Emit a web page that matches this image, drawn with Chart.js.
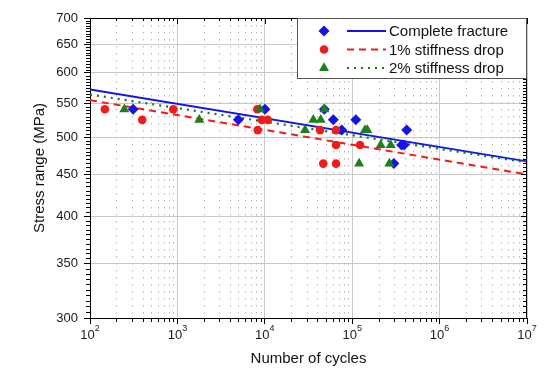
<!DOCTYPE html>
<html>
<head>
<meta charset="utf-8">
<script src="https://cdn.jsdelivr.net/npm/chart.js@4.4.1/dist/chart.umd.min.js"></script>
<style>
    html, body { margin: 0; padding: 0; background: #fff; }
</style>
</head>
<body>
<canvas id="sn-chart" width="550" height="380"></canvas>
<script>
const FONT = "'Liberation Sans', Arial, sans-serif";

// axis ticks
const xTicks = [1e2, 1e3, 1e4, 1e5, 1e6, 1e7];
const yTicks = [300, 350, 400, 450, 500, 550, 600, 650, 700];

// test results (cycles, stress range)
const completeCycles = [312, 4980, 10040, 48000, 60800, 75900, 110000, 300000, 368000, 392000, 420000];
const completeStress = [541, 525, 541, 541, 525, 510, 525, 464, 489, 489, 510];

const drop1Cycles = [148, 396, 897, 8200, 8300, 9230, 10800, 42900, 46700, 65300, 65300, 65300, 123000];
const drop1Stress = [541, 525, 541, 541, 510, 525, 525, 510, 464, 510, 489, 464, 489];

const drop2Cycles = [247, 1780, 8810, 28900, 35900, 43600, 48000, 120000, 140000, 149000, 212000, 266000, 276000];
const drop2Stress = [541, 525, 541, 510, 525, 525, 541, 464, 510, 510, 489, 464, 489];

// fitted S-N curves, end points at 10^2 and 10^7
const fitCycles = [1e2, 1e7];
const completeFit = [572, 467];
const drop1Fit = [555, 450];
const drop2Fit = [564, 465.5];

const legendLabels = ['Complete fracture', '1% stiffness drop', '2% stiffness drop'];

const BLUE = '#1414e8';
const RED = '#f01c1c';
const GREEN = '#1c7f1c';
const GREEN_LINE = '#137813';

function toPoints(xs, ys) {
    return xs.map((x, i) => ({x: x, y: ys[i]}));
}

function drawMarker(ctx, style, x, y, color) {
    ctx.save();
    ctx.fillStyle = color;
    ctx.beginPath();
    if (style == 'rectRot') {
        let r = 5.5;
        ctx.moveTo(x, y - r); ctx.lineTo(x + r, y); ctx.lineTo(x, y + r); ctx.lineTo(x - r, y);
    } else if (style == 'circle') {
        ctx.arc(x, y, 4.3, 0, Math.PI * 2);
    } else {
        let r = 5.8;
        for (let i = 0; i < 3; i++) {
            let a = i * Math.PI * 2 / 3;
            ctx.lineTo(x + Math.sin(a) * r, y - Math.cos(a) * r);
        }
    }
    ctx.closePath();
    ctx.fill();
    ctx.restore();
}

// dotted minor grid under the points
const minorGrid = {
    id: 'minorGrid',
    beforeDatasetsDraw(chart) {
        const {ctx, chartArea: a, scales: {x}} = chart;
        ctx.save();
        ctx.strokeStyle = '#b4b4b4';
        ctx.lineWidth = 1;
        ctx.setLineDash([1.5, 5.5]);
        for (let e = 2; e < 7; e++) {
            for (let k = 2; k < 10; k++) {
                let px = Math.round(x.getPixelForValue(k * Math.pow(10, e))) + 0.5;
                ctx.beginPath();
                ctx.moveTo(px, a.top);
                ctx.lineTo(px, a.bottom);
                ctx.stroke();
            }
        }
        ctx.restore();
    }
};

// frame, minor ticks, x labels with exponents, legend
const frame = {
    id: 'frame',
    afterDraw(chart) {
        const {ctx, chartArea: a, scales: {x, y}} = chart;
        ctx.save();
        ctx.strokeStyle = '#000';
        ctx.lineWidth = 1;
        ctx.beginPath();
        ctx.moveTo(a.left, a.top + 0.5); ctx.lineTo(a.right, a.top + 0.5);
        ctx.moveTo(a.right - 0.5, a.top); ctx.lineTo(a.right - 0.5, a.bottom);
        // x minor ticks, bottom outward, top inward
        for (let e = 2; e < 7; e++) {
            for (let k = 2; k < 10; k++) {
                let px = Math.round(x.getPixelForValue(k * Math.pow(10, e))) + 0.5;
                ctx.moveTo(px, a.bottom); ctx.lineTo(px, a.bottom + 4);
                ctx.moveTo(px, a.top); ctx.lineTo(px, a.top + 3);
            }
        }
        xTicks.forEach(v => {
            let px = Math.round(x.getPixelForValue(v)) + 0.5;
            ctx.moveTo(px, a.top); ctx.lineTo(px, a.top + 6);
        });
        // y minor ticks every 5 MPa
        for (let v = 305; v < 700; v += 5) {
            if (v % 50 == 0) continue;
            let py = Math.round(y.getPixelForValue(v)) + 0.5;
            ctx.moveTo(a.left - 4, py); ctx.lineTo(a.left, py);
            ctx.moveTo(a.right - 4, py); ctx.lineTo(a.right, py);
        }
        yTicks.forEach(v => {
            let py = Math.round(y.getPixelForValue(v)) + 0.5;
            ctx.moveTo(a.right - 6, py); ctx.lineTo(a.right, py);
        });
        ctx.stroke();

        // x tick labels: 10 with a raised exponent
        ctx.fillStyle = '#1a1a1a';
        ctx.textBaseline = 'middle';
        ctx.textAlign = 'left';
        xTicks.forEach(v => {
            let px = x.getPixelForValue(v);
            let exp = String(Math.round(Math.log10(v)));
            ctx.font = '13px ' + FONT;
            let w1 = ctx.measureText('10').width;
            ctx.font = '9px ' + FONT;
            let w2 = ctx.measureText(exp).width;
            let start = px - (w1 + w2) / 2;
            ctx.font = '13px ' + FONT;
            ctx.fillText('10', start, a.bottom + 17);
            ctx.font = '9px ' + FONT;
            ctx.fillText(exp, start + w1, a.bottom + 11);
        });

        // legend box
        let lx = 297, ly = a.top, lw = a.right - lx, lh = 61;
        ctx.fillStyle = '#fff';
        ctx.fillRect(lx, ly, lw, lh);
        ctx.strokeStyle = '#555';
        ctx.strokeRect(lx + 0.5, ly + 0.5, lw - 1, lh - 1);
        const items = [
            {style: 'rectRot', color: BLUE, line: BLUE, dash: [], width: 1.8},
            {style: 'circle', color: RED, line: RED, dash: [7, 5], width: 2},
            {style: 'triangle', color: GREEN, line: GREEN_LINE, dash: [2, 5], width: 2.2}
        ];
        items.forEach((it, i) => {
            let cy = ly + 13 + i * 18.5;
            drawMarker(ctx, it.style, 324, cy, it.color);
            ctx.beginPath();
            ctx.strokeStyle = it.line;
            ctx.lineWidth = it.width;
            ctx.setLineDash(it.dash);
            ctx.moveTo(347, cy); ctx.lineTo(386, cy);
            ctx.stroke();
            ctx.setLineDash([]);
            ctx.fillStyle = '#111';
            ctx.font = '15px ' + FONT;
            ctx.textAlign = 'left';
            ctx.fillText(legendLabels[i], 389, cy + 1);
        });
        ctx.restore();
    }
};

const chartData = {
    datasets: [{
        label: legendLabels[1],
        data: toPoints(drop1Cycles, drop1Stress),
        pointStyle: 'circle',
        pointRadius: 4.3,
        backgroundColor: RED,
        borderWidth: 0,
        order: 2
    },
    {
        label: legendLabels[0],
        data: toPoints(completeCycles, completeStress),
        pointStyle: 'rectRot',
        pointRadius: 5.5,
        backgroundColor: BLUE,
        borderWidth: 0,
        order: 3
    },
    {
        label: legendLabels[2],
        data: toPoints(drop2Cycles, drop2Stress),
        pointStyle: 'triangle',
        pointRadius: 5.8,
        backgroundColor: GREEN,
        borderWidth: 0,
        order: 1
    },
    {
        label: 'fit complete',
        data: toPoints(fitCycles, completeFit),
        showLine: true,
        pointRadius: 0,
        borderColor: BLUE,
        borderWidth: 1.8,
        order: 6
    },
    {
        label: 'fit 1%',
        data: toPoints(fitCycles, drop1Fit),
        showLine: true,
        pointRadius: 0,
        borderColor: RED,
        borderWidth: 2,
        borderDash: [7, 5],
        order: 5
    },
    {
        label: 'fit 2%',
        data: toPoints(fitCycles, drop2Fit),
        showLine: true,
        pointRadius: 0,
        borderColor: GREEN_LINE,
        borderWidth: 2.2,
        borderDash: [2, 5],
        order: 4
    }]
};

const config = {
    type: 'scatter',
    data: chartData,
    options: {
        responsive: false,
        animation: false,
        layout: { padding: { top: 18, right: 23, left: 0, bottom: 0 } },
        plugins: { legend: { display: false }, tooltip: { enabled: false } },
        scales: {
            x: {
                type: 'logarithmic',
                position: 'bottom',
                min: 1e2,
                max: 1e7,
                afterBuildTicks: s => { s.ticks = xTicks.map(v => ({value: v})); },
                afterFit: s => { s.height = 62; },
                ticks: { display: false },
                grid: { color: '#c8c8c8', lineWidth: 1, tickColor: '#000', tickLength: 6 },
                border: { color: '#000', width: 1 },
                title: {
                    display: true,
                    text: 'Number of cycles',
                    color: '#111',
                    font: { family: FONT, size: 15 },
                    padding: { top: 0, bottom: 12 }
                }
            },
            y: {
                type: 'logarithmic',
                min: 300,
                max: 700,
                afterBuildTicks: s => { s.ticks = yTicks.map(v => ({value: v})); },
                afterFit: s => { s.width = 90; },
                ticks: {
                    callback: v => String(v),
                    color: '#1a1a1a',
                    padding: 6,
                    font: { family: FONT, size: 13 }
                },
                grid: { color: '#c8c8c8', lineWidth: 1, tickColor: '#000', tickLength: 6 },
                border: { color: '#000', width: 1 },
                title: {
                    display: true,
                    text: 'Stress range (MPa)',
                    color: '#111',
                    font: { family: FONT, size: 15 },
                    padding: { top: 31, bottom: 0 }
                }
            }
        }
    },
    plugins: [minorGrid, frame]
};

const chart = new Chart(document.getElementById('sn-chart'), config);
</script>
</body>
</html>
